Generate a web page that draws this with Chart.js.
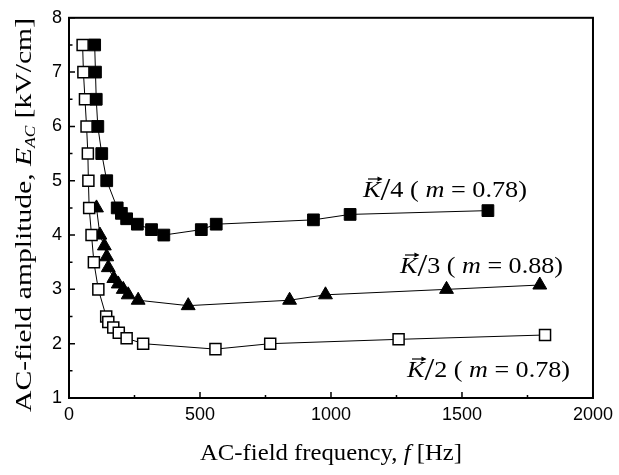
<!DOCTYPE html>
<html><head><meta charset="utf-8">
<style>html,body{margin:0;padding:0;background:#fff}canvas{display:block}</style>
<script src="https://cdn.jsdelivr.net/npm/chart.js@4/dist/chart.umd.min.js"></script>
</head><body>
<canvas id="c" width="619" height="475"></canvas>
<script>
// ---- data ----
const freqK2 = [52, 55, 61, 67, 72, 74, 77, 86, 95, 112, 142, 150, 169, 190, 220, 283, 559, 768, 1258, 1817];
const ampK2  = [7.5, 7.0, 6.5, 6.0, 5.5, 5.0, 4.5, 4.0, 3.5, 3.0, 2.5, 2.4, 2.3, 2.2, 2.1, 2.0, 1.9, 2.0, 2.08, 2.16];
const freqK3 = [105, 118, 135, 144, 150, 171, 188, 207, 226, 264, 455, 842, 979, 1441, 1797];
const ampK3  = [4.5, 4.0, 3.8, 3.6, 3.4, 3.2, 3.1, 3.0, 2.9, 2.8, 2.7, 2.8, 2.9, 3.0, 3.08];
const freqK4 = [98, 101, 104, 110, 125, 144, 184, 200, 220, 261, 315, 362, 505, 562, 933, 1073, 1599];
const ampK4  = [7.5, 7.0, 6.5, 6.0, 5.5, 5.0, 4.5, 4.4, 4.3, 4.2, 4.1, 4.0, 4.1, 4.2, 4.28, 4.38, 4.45];
const xTicks = [0, 500, 1000, 1500, 2000];
const xMinor = [250, 750, 1250, 1750];
const yTicks = [1, 2, 3, 4, 5, 6, 7, 8];
const yMinor = [1.5, 2.5, 3.5, 4.5, 5.5, 6.5, 7.5];
const seriesLabels = ['2', '3', '4'];
const seriesM = ['0.78', '0.88', '0.78'];

const pts = (xs, ys) => xs.map((v, i) => ({x: v, y: ys[i]}));
const SERIF = '"Liberation Serif", "Times New Roman", serif';
const SANS = '"Liberation Sans", Arial, sans-serif';

function drawRuns(ctx, runs, x, y, target) {
  let total = 0;
  runs.forEach(r => { ctx.font = r.font; r.w = ctx.measureText(r.t).width; total += r.w; });
  const s = target ? target / total : 1;
  ctx.save();
  ctx.translate(x, y);
  ctx.scale(s, 1);
  let cx = 0;
  runs.forEach(r => {
    ctx.font = r.font;
    ctx.fillText(r.t, cx, r.dy || 0);
    r.x0 = x + cx * s; r.x1 = x + (cx + r.w) * s;
    cx += r.w;
  });
  ctx.restore();
  return runs;
}

function drawLabel(ctx, n, m, x, baseline, target) {
  const fs = 23;
  const runs = drawRuns(ctx, [
    {t: 'K', font: `italic ${fs}px ${SERIF}`},
    {t: '/', font: `${fs * 1.35}px ${SERIF}`, dy: 3},
    {t: n + ' ( ', font: `${fs}px ${SERIF}`},
    {t: 'm', font: `italic ${fs}px ${SERIF}`},
    {t: ' = ' + m + ')', font: `${fs}px ${SERIF}`}
  ], x, baseline, target);
  // vector arrow over K
  const k = runs[0];
  const ay = baseline - 18;
  const ax0 = k.x0 + 5, ax1 = k.x1 + 1;
  ctx.save();
  ctx.strokeStyle = '#000'; ctx.lineWidth = 1.2;
  ctx.beginPath(); ctx.moveTo(ax0, ay); ctx.lineTo(ax1, ay); ctx.stroke();
  ctx.beginPath(); ctx.moveTo(ax1 + 1, ay); ctx.lineTo(ax1 - 4, ay - 2.5); ctx.lineTo(ax1 - 4, ay + 2.5); ctx.closePath(); ctx.fill();
  ctx.restore();
}

const decor = {
  id: 'decor',
  afterDraw(chart) {
    const {ctx, chartArea: a, scales: {x, y}} = chart;
    ctx.save();
    ctx.strokeStyle = '#000'; ctx.fillStyle = '#000';
    ctx.lineWidth = 2;
    ctx.strokeRect(a.left, a.top, a.right - a.left, a.bottom - a.top);
    ctx.lineWidth = 1.5;
    ctx.beginPath();
    xTicks.forEach(v => { const p = x.getPixelForValue(v); ctx.moveTo(p, a.bottom); ctx.lineTo(p, a.bottom - 6); });
    xMinor.forEach(v => { const p = x.getPixelForValue(v); ctx.moveTo(p, a.bottom); ctx.lineTo(p, a.bottom - 3); });
    yTicks.forEach(v => { const p = y.getPixelForValue(v); ctx.moveTo(a.left, p); ctx.lineTo(a.left + 6, p); });
    yMinor.forEach(v => { const p = y.getPixelForValue(v); ctx.moveTo(a.left, p); ctx.lineTo(a.left + 3.5, p); });
    ctx.stroke();

    ctx.textBaseline = 'alphabetic';
    ctx.textAlign = 'left';
    // x title
    drawRuns(ctx, [
      {t: 'AC-field frequency, ', font: `24px ${SERIF}`},
      {t: 'f', font: `italic 24px ${SERIF}`},
      {t: ' [Hz]', font: `24px ${SERIF}`}
    ], 200, 460, 262);
    // y title
    ctx.save();
    ctx.translate(31, 412);
    ctx.rotate(-Math.PI / 2);
    drawRuns(ctx, [
      {t: 'AC-field amplitude, ', font: `24px ${SERIF}`},
      {t: 'E', font: `italic 24px ${SERIF}`},
      {t: 'AC', font: `italic 14px ${SERIF}`, dy: 4},
      {t: ' [kV/cm]', font: `24px ${SERIF}`}
    ], 0, 0, 394);
    ctx.restore();
    // series annotations
    drawLabel(ctx, seriesLabels[2], seriesM[2], 363, 197, 164);
    drawLabel(ctx, seriesLabels[1], seriesM[1], 400, 273, 163);
    drawLabel(ctx, seriesLabels[0], seriesM[0], 407, 377, 163);
    ctx.restore();
  }
};

const common = {showLine: true, borderColor: '#000', borderWidth: 1, pointBorderColor: '#000', pointHoverRadius: 0};

new Chart(document.getElementById('c'), {
  type: 'scatter',
  data: {
    datasets: [
      Object.assign({label: 'K/2', data: pts(freqK2, ampK2), pointStyle: 'rect', pointRadius: 7.8,
        pointBackgroundColor: '#fff', pointBorderWidth: 1.5}, common),
      Object.assign({label: 'K/3', data: pts(freqK3, ampK3), pointStyle: 'triangle', pointRadius: 8,
        pointBackgroundColor: '#000', pointBorderWidth: 1}, common),
      Object.assign({label: 'K/4', data: pts(freqK4, ampK4), pointStyle: 'rect', pointRadius: 8.3,
        pointBackgroundColor: '#000', pointBorderWidth: 1}, common)
    ]
  },
  options: {
    responsive: false,
    animation: false,
    events: [],
    layout: {padding: {left: 0, right: 25, top: 17, bottom: 0}},
    plugins: {legend: {display: false}, tooltip: {enabled: false}, title: {display: false}},
    scales: {
      x: {
        type: 'linear', min: 0, max: 2000,
        afterBuildTicks: s => { s.ticks = xTicks.map(v => ({value: v})); },
        afterFit: s => { s.height = 77; },
        grid: {display: false, drawTicks: false},
        border: {display: false},
        ticks: {color: '#000', font: {family: SANS, size: 18}, padding: 6, maxRotation: 0, autoSkip: false,
          callback: v => String(v)},
        title: {display: false}
      },
      y: {
        type: 'linear', min: 1, max: 8,
        afterBuildTicks: s => { s.ticks = yTicks.map(v => ({value: v})); },
        afterFit: s => { s.width = 69; },
        grid: {display: false, drawTicks: false},
        border: {display: false},
        ticks: {color: '#000', font: {family: SANS, size: 18}, padding: 7, autoSkip: false,
          callback: v => String(v)},
        title: {display: false}
      }
    }
  },
  plugins: [decor]
});
</script>
</body></html>
